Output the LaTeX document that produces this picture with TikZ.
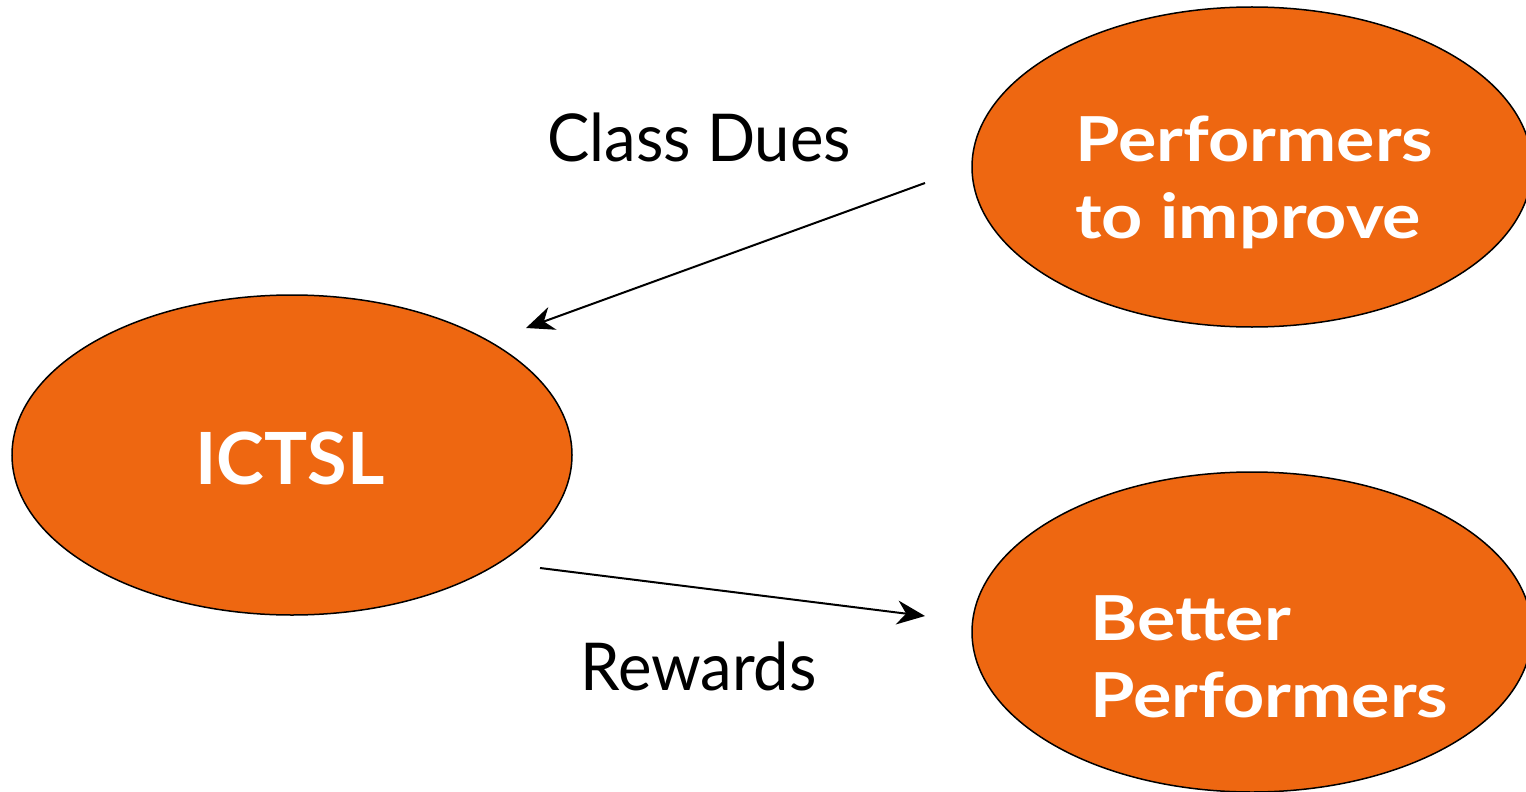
\documentclass[tikz,border=0pt]{standalone}
\usepackage{fontspec}
\setmainfont{Lato}
\newfontfamily\widebold[FakeStretch=1.16]{Lato}
\newfontfamily\narrowreg[FakeStretch=0.96]{Lato}
\usepackage{xcolor}
\usepackage{tikz}
\usetikzlibrary{shapes.geometric,arrows.meta}
\definecolor{ictorange}{RGB}{238,103,17}
\tikzset{
    party/.style={draw, ellipse, fill=ictorange, line width=0.75pt, inner sep=0pt,
      minimum width=280pt, minimum height=160pt},
    inlabel/.style={text=white, font=\widebold\fontsize{31}{37}\selectfont\bfseries, inner sep=0pt, anchor=base west},
    flowlabel/.style={font=\narrowreg\fontsize{33}{39}\selectfont, inner sep=0pt, anchor=base west},
    flow/.style={line width=1pt, -{Stealth[length=14pt,width=12pt,inset=4.5pt]}}}

\begin{document}
\begin{tikzpicture}[x=0.5pt,y=-0.5pt]
\useasboundingbox (0,0) rectangle (1526,792);
\node[party] (ictsl) at (292,455) {};
\node[party] (perf) at (1252,167) {};
\node[party] (better) at (1252,632) {};

\node[text=white, font=\fontsize{36}{42}\selectfont\bfseries, inner sep=0pt, anchor=base] (ictslT) at (290,484) {ICTSL};
\node[inlabel] (perfA) at (1075,162) {Performers};
\node[inlabel] (perfB) at (1075,238) {to improve};
\node[inlabel] (betterA) at (1090,640) {Better};
\node[inlabel] (betterB) at (1090,717) {Performers};

\node[flowlabel] (dues) at (547,162) {Class Dues};
\node[flowlabel] (rewards) at (580,690) {Rewards};

%arrows
\coordinate (duesS) at (925,183);
\coordinate (duesE) at (526,328);
\coordinate (rewS) at (540,568);
\coordinate (rewE) at (925,616);
\draw [flow] (duesS) -- (duesE);
\draw [flow] (rewS) -- (rewE);
\end{tikzpicture}
\end{document}
